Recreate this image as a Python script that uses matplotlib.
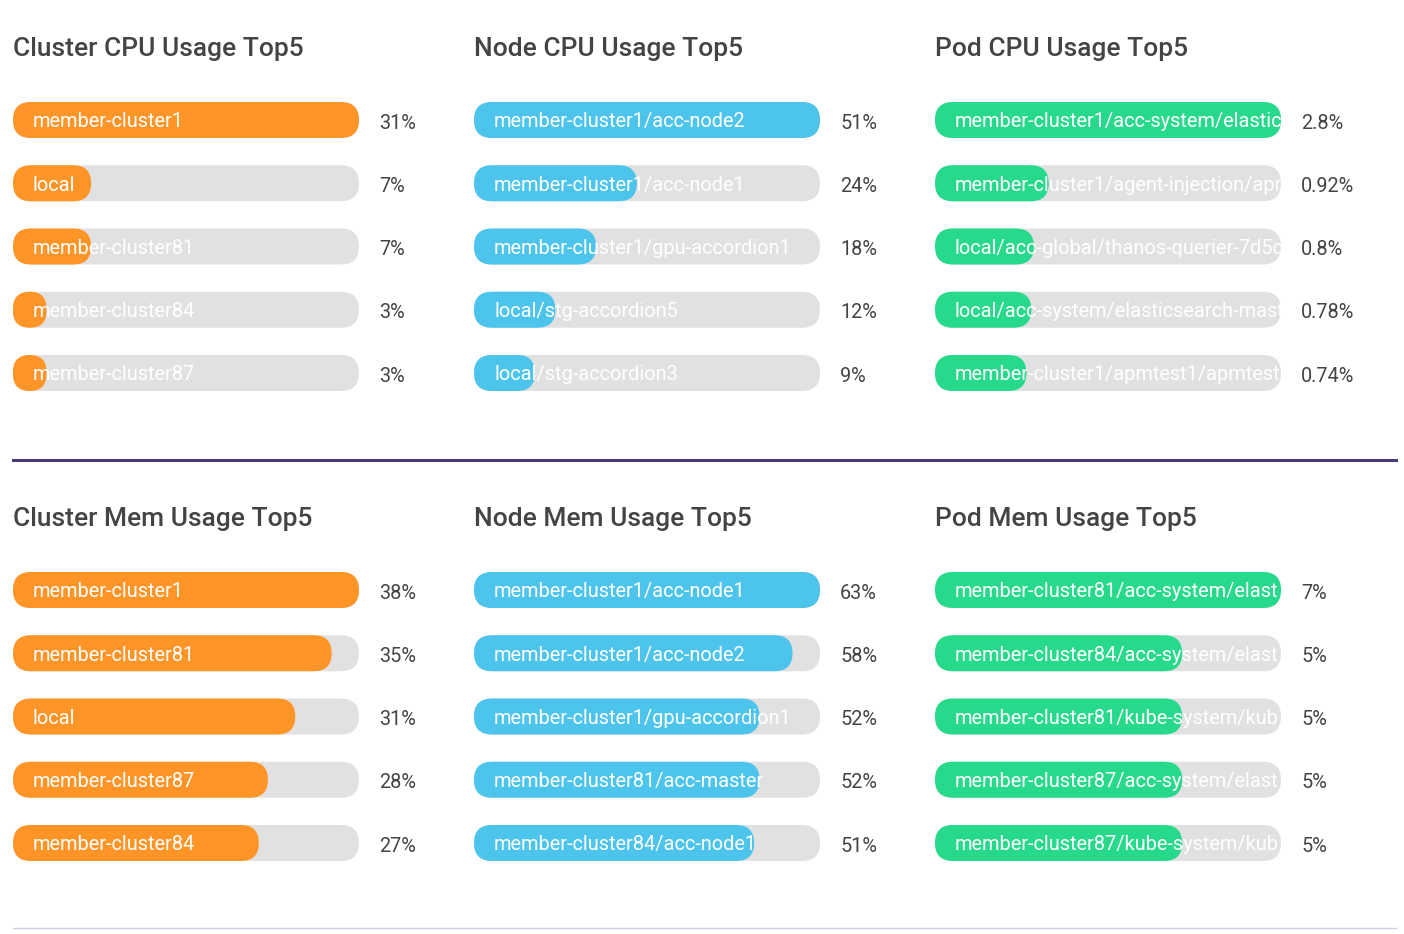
import matplotlib
matplotlib.use('Agg')
import matplotlib.pyplot as plt
from matplotlib.patches import FancyBboxPatch
from matplotlib.lines import Line2D
import matplotlib.transforms as mtransforms

plt.rcParams['font.family'] = ['Roboto', 'DejaVu Sans']

# ---------------- data ----------------
cluster_cpu_names = ["member-cluster1", "local", "member-cluster81", "member-cluster84", "member-cluster87"]
cluster_cpu_values = [31, 7, 7, 3, 3]

node_cpu_names = ["member-cluster1/acc-node2", "member-cluster1/acc-node1", "member-cluster1/gpu-accordion1",
                  "local/stg-accordion5", "local/stg-accordion3"]
node_cpu_values = [51, 24, 18, 12, 9]

pod_cpu_names = ["member-cluster1/acc-system/elastic",
                 "member-cluster1/agent-injection/apm",
                 "local/acc-global/thanos-querier-7d5c",
                 "local/acc-system/elasticsearch-mast",
                 "member-cluster1/apmtest1/apmtest1"]
pod_cpu_values = [2.8, 0.92, 0.8, 0.78, 0.74]

cluster_mem_names = ["member-cluster1", "member-cluster81", "local", "member-cluster87", "member-cluster84"]
cluster_mem_values = [38, 35, 31, 28, 27]

node_mem_names = ["member-cluster1/acc-node1", "member-cluster1/acc-node2", "member-cluster1/gpu-accordion1",
                  "member-cluster81/acc-master", "member-cluster84/acc-node1"]
node_mem_values = [63, 58, 52, 52, 51]

pod_mem_names = ["member-cluster81/acc-system/elast",
                 "member-cluster84/acc-system/elast",
                 "member-cluster81/kube-system/kub",
                 "member-cluster87/acc-system/elast",
                 "member-cluster87/kube-system/kub"]
pod_mem_values = [7, 5, 5, 5, 5]

titles = ["Cluster CPU Usage Top5", "Node CPU Usage Top5", "Pod CPU Usage Top5",
          "Cluster Mem Usage Top5", "Node Mem Usage Top5", "Pod Mem Usage Top5"]

# ---------------- style ----------------
W, H = 1404, 934
ORANGE = "#FF9427"
BLUE = "#4CC4EC"
GREEN = "#27D98B"
TRACK = "#E1E1E1"
TITLE_C = "#444444"
VALUE_C = "#444444"
ROW = 63.25
BAR_W = 346
BAR_H = 36

fig = plt.figure(figsize=(W / 100, H / 100), dpi=100)
fig.patch.set_facecolor("white")


def fmt(v):
    return f"{v:g}%"


def panel(left_px, first_center_px, title, title_base_px, names, values, color):
    axh = 5 * ROW
    top_px = first_center_px - ROW / 2
    ax = fig.add_axes([left_px / W, 1 - (top_px + axh) / H, BAR_W / W, axh / H])
    vmax = max(values)
    ax.set_xlim(0, vmax)
    ax.set_ylim(4.5, -0.5)
    ax.axis("off")
    px_x = vmax / BAR_W
    px_y = 1.0 / ROW
    bh = BAR_H * px_y
    r = (BAR_H / 2) * px_x
    aspect = px_y / px_x
    trans = mtransforms.blended_transform_factory(ax.transAxes, ax.transData)
    for i, (n, v) in enumerate(zip(names, values)):
        track = FancyBboxPatch((0, i - bh / 2), vmax, bh,
                               boxstyle=f"round,pad=0,rounding_size={r}",
                               mutation_aspect=aspect, fc=TRACK, ec="none")
        ax.add_patch(track)
        rr = min(r, v / 2)
        bar = FancyBboxPatch((0, i - bh / 2), v, bh,
                             boxstyle=f"round,pad=0,rounding_size={rr}",
                             mutation_aspect=aspect, fc=color, ec="none")
        ax.add_patch(bar)
        t = ax.text(20 * px_x, i + 0.03, n, color="white", va="center", ha="left",
                    fontsize=14.4)
        t.set_clip_path(track)
        ax.text((BAR_W + 20) / BAR_W, i + 0.05, fmt(v), color=VALUE_C, va="center",
                ha="left", fontsize=14.3, transform=trans)
    fig.text(left_px / W, 1 - title_base_px / H, title, color=TITLE_C,
             fontsize=19, fontweight="medium", ha="left", va="baseline")


lefts = [13, 474, 935]
colors = [ORANGE, BLUE, GREEN]
cpu_sets = [(cluster_cpu_names, cluster_cpu_values), (node_cpu_names, node_cpu_values),
            (pod_cpu_names, pod_cpu_values)]
mem_sets = [(cluster_mem_names, cluster_mem_values), (node_mem_names, node_mem_values),
            (pod_mem_names, pod_mem_values)]

for k in range(3):
    panel(lefts[k], 120, titles[k], 56, cpu_sets[k][0], cpu_sets[k][1], colors[k])
    panel(lefts[k], 590, titles[k + 3], 526, mem_sets[k][0], mem_sets[k][1], colors[k])

# divider lines
fig.add_artist(Line2D([13 / W, 1396 / W], [1 - 460 / H, 1 - 460 / H], color="#4B3A78",
                      linewidth=2.2, transform=fig.transFigure))
fig.add_artist(Line2D([13 / W, 1396 / W], [1 - 928 / H, 1 - 928 / H], color="#D2CEE2",
                      linewidth=1.0, transform=fig.transFigure))

fig.savefig("out.png", dpi=100)
